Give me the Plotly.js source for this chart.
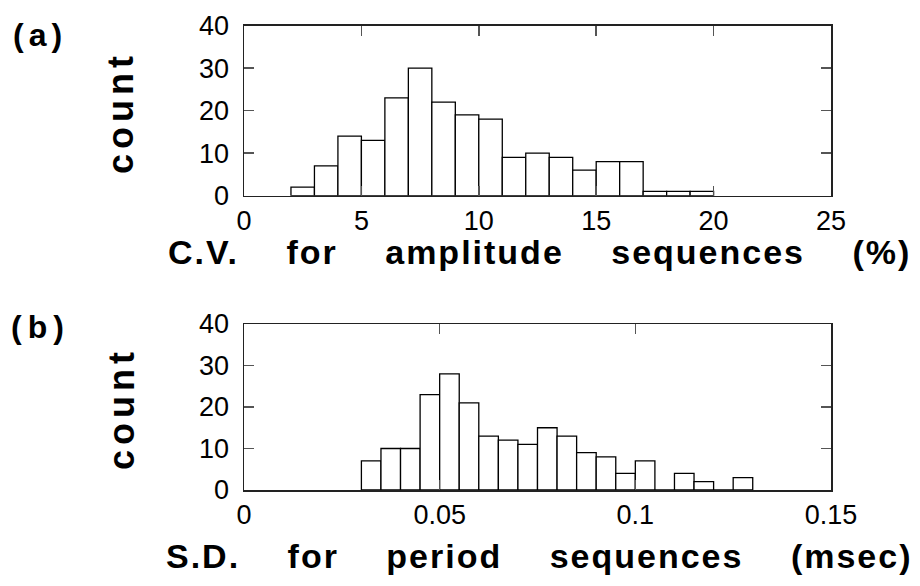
<!DOCTYPE html>
<html>
<head>
<meta charset="utf-8">
<script src="https://cdn.plot.ly/plotly-3.0.1.min.js"></script>
<style>html,body{margin:0;padding:0;background:#fff;}#chart{width:920px;height:586px;}</style>
</head>
<body>
<div id="chart"></div>
<script>
// Panel (a): C.V. for amplitude sequences (%), bin width 1
const aBinStart = [2, 3, 4, 5, 6, 7, 8, 9, 10, 11, 12, 13, 14, 15, 16, 17, 18, 19];
const aCounts   = [2, 7, 14, 13, 23, 30, 22, 19, 18, 9, 10, 9, 6, 8, 8, 1, 1, 1];
const aBinWidth = 1;
const aTickVals = [0, 5, 10, 15, 20, 25];
const aTickText = ['0', '5', '10', '15', '20', '25'];

// Panel (b): S.D. for period sequences (msec), bin width 0.005
const bBinStart = [0.030, 0.035, 0.040, 0.045, 0.050, 0.055, 0.060, 0.065, 0.070, 0.075,
                   0.080, 0.085, 0.090, 0.095, 0.100, 0.105, 0.110, 0.115, 0.120, 0.125];
const bCounts   = [7, 10, 10, 23, 28, 21, 13, 12, 11, 15, 13, 9, 8, 4, 7, 0, 4, 2, 0, 3];
const bBinWidth = 0.005;
const bTickVals = [0, 0.05, 0.1, 0.15];
const bTickText = ['0', '0.05', '0.1', '0.15'];

const yTickVals = [0, 10, 20, 30, 40];
const yTickText = ['0', '10', '20', '30', '40'];

// x-axis titles (words spread out as in the original)
const titleWordsA = ['C.V.', 'for', 'amplitude', 'sequences', '(%)'];
const titleWordsB = ['S.D.', 'for', 'period', 'sequences', '(msec)'];
const yTitle = 'count';
const panelLabels = ['(a)', '(b)'];

const GAP = ' \u2003';
const spaced = (s, px) => '<span style="letter-spacing:' + px + 'px">' + s + '</span>';

const tickFont = {family: 'Liberation Sans, Arial, sans-serif', size: 27, color: '#000'};
const boldFont = {family: 'Liberation Sans, Arial, sans-serif', size: 34, color: '#000', weight: 'bold'};
const countFont = {family: 'Liberation Sans, Arial, sans-serif', size: 36, color: '#000', weight: 'bold'};
const labelFont = {family: 'Liberation Sans, Arial, sans-serif', size: 32, color: '#000', weight: 'bold'};

const barStyle = {color: '#fff', line: {color: '#000', width: 1.3}};

const traces = [
  {type: 'bar', x: aBinStart.map(s => s + aBinWidth / 2), y: aCounts, width: aBinWidth,
   marker: barStyle, xaxis: 'x', yaxis: 'y', hoverinfo: 'x+y'},
  {type: 'bar', x: bBinStart.map(s => s + bBinWidth / 2), y: bCounts, width: bBinWidth,
   marker: barStyle, xaxis: 'x2', yaxis: 'y2', hoverinfo: 'x+y'}
];

function xAx(range, vals, text, anchor, domain) {
  return {domain: domain, range: range, anchor: anchor, tickmode: 'array', tickvals: vals, ticktext: text,
    ticks: 'inside', ticklen: 10, tickwidth: 1.5, tickcolor: '#555', mirror: 'allticks',
    showline: true, linecolor: '#222', linewidth: 1.5, showgrid: false, zeroline: false,
    tickfont: tickFont, fixedrange: true};
}
function yAx(anchor, domain) {
  return {domain: domain, range: [0, 40], anchor: anchor, tickmode: 'array', tickvals: yTickVals, ticktext: yTickText,
    ticks: 'inside', ticklen: 10, tickwidth: 1.5, tickcolor: '#555', mirror: 'allticks',
    showline: true, linecolor: '#222', linewidth: 1.5, showgrid: false, zeroline: false,
    tickfont: tickFont, ticklabelstandoff: 8, fixedrange: true};
}

const ann = (text, x, y, font, extra) => Object.assign({text: text, xref: 'paper', yref: 'paper',
  x: x/920, y: 1 - y/586, showarrow: false, font: font, xanchor: 'center', yanchor: 'middle'}, extra || {});

const annotations = [
  ann(spaced(panelLabels[0], 5), 40, 35, labelFont),
  ann(spaced(panelLabels[1], 6), 40, 327, labelFont),
  ann(spaced(yTitle, 5), 121, 112, countFont, {textangle: -90}),
  ann(spaced(yTitle, 5), 121, 408, countFont, {textangle: -90}),
  ann(spaced(titleWordsA.join(GAP), 2), 539, 252, boldFont),
  ann(spaced(titleWordsB.join(GAP), 2), 539, 556, boldFont)
];

const xDom = [244/920, 831/920];
const layout = {
  width: 920, height: 586,
  margin: {l: 0, r: 0, t: 0, b: 0},
  paper_bgcolor: '#fff', plot_bgcolor: '#fff',
  showlegend: false, bargap: 0,
  xaxis: xAx([0, 25], aTickVals, aTickText, 'y', xDom),
  yaxis: yAx('x', [1 - 195.7/586, 1 - 25.7/586]),
  xaxis2: xAx([0, 0.15], bTickVals, bTickText, 'y2', xDom),
  yaxis2: yAx('x2', [1 - 490/586, 1 - 324/586]),
  annotations: annotations
};

Plotly.newPlot('chart', traces, layout, {staticPlot: true, displayModeBar: false});
</script>
</body>
</html>
